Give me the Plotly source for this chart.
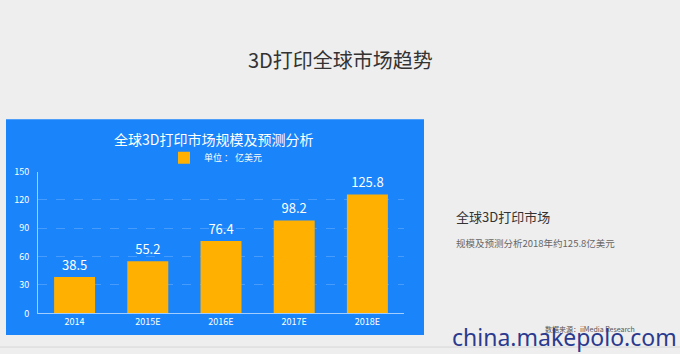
import plotly.graph_objects as go

categories = ["2014", "2015E", "2016E", "2017E", "2018E"]
values = [38.5, 55.2, 76.4, 98.2, 125.8]
value_labels = ["38.5", "55.2", "76.4", "98.2", "125.8"]
y_ticks = [0, 30, 60, 90, 120, 150]

W, H = 680, 354
S = 354 / 362  # observed vertical squeeze of the captured page
FONT = "Noto Sans CJK SC, Noto Sans, sans-serif"
BLUE = "#1a84fb"
BAR = "#ffb000"

def px(x):
    return x / W

def py(y):
    return min(1.0, max(0.0, 1 - y / (H * S)))

def pyf(y):
    # figure-pixel position (no compensation), for items pinned to the canvas edge
    return 1 - y / H

fig = go.Figure()
fig.add_trace(go.Bar(
    x=categories, y=values, name="单位 ： 亿美元",
    marker=dict(color=BAR, line=dict(width=0)),
    text=value_labels, textposition="outside", cliponaxis=False,
    textfont=dict(color="white", size=13, family=FONT),
))

def ann(text, yv, x, size, color, xanchor="center", family=FONT):
    return dict(text=text, x=px(x), y=yv, xref="paper", yref="paper",
                xanchor=xanchor, yanchor="middle", showarrow=False,
                font=dict(size=size, color=color, family=family))

fig.update_layout(
    width=W, height=H,
    margin=dict(l=0, r=0, t=0, b=0),
    paper_bgcolor="#eeeeee", plot_bgcolor="rgba(0,0,0,0)",
    bargap=0.44,
    showlegend=True,
    legend=dict(orientation="h", x=px(164), y=py(153), xanchor="left", yanchor="middle",
                font=dict(color="white", size=9, family=FONT), bgcolor="rgba(0,0,0,0)",
                itemwidth=30),
    xaxis=dict(domain=[px(38), px(404)], showgrid=False, showline=True,
               linecolor="rgba(255,255,255,0.6)", linewidth=1,
               tickfont=dict(color="white", size=9, family=FONT), ticks=""),
    yaxis=dict(domain=[py(311), py(167)], range=[0, 150], tickvals=y_ticks,
               showgrid=True, gridcolor="rgba(255,255,255,0.2)", griddash="dash", gridwidth=1,
               showline=True, linecolor="rgba(255,255,255,0.6)", linewidth=1,
               zeroline=False,
               tickfont=dict(color="white", size=9, family=FONT), ticks="", ticklabelstandoff=6),
    shapes=[
        dict(type="rect", xref="paper", yref="paper", x0=px(6), x1=px(424), y0=py(333), y1=py(114),
             fillcolor=BLUE, line=dict(width=0), layer="below"),
        dict(type="line", xref="paper", yref="paper", x0=0, x1=1, y0=pyf(353), y1=pyf(353),
             line=dict(color="#d6d6d6", width=1), layer="below"),
    ],
    annotations=[
        ann("3D打印全球市场趋势", py(53), 340, 20, "#333333"),
        ann("全球3D打印市场规模及预测分析", py(134), 213, 14, "white"),
        ann("全球3D打印市场", py(213), 454, 13, "#333333", "left"),
        ann("规模及预测分析2018年约125.8亿美元", py(240), 454, 9.5, "#666666", "left"),
        ann("数据来源：iiMedia Research", py(327), 543, 7, "#555555", "left"),
        ann("china.makepolo.com", pyf(343), 679, 23, "#2b3a8f", "right", "Noto Sans, sans-serif"),
    ],
)

ps = "document.body.style.margin='0';document.body.style.background='#eeeeee';"
fig.write_html("out.html", post_script=ps)
